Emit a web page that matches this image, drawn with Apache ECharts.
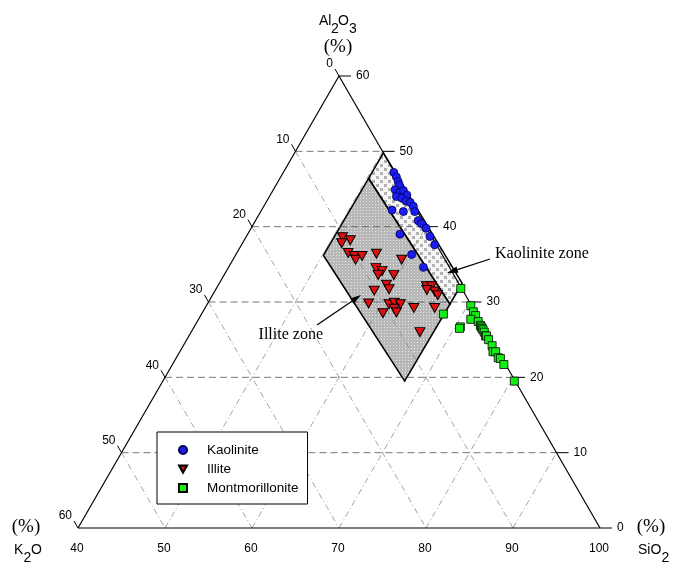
<!DOCTYPE html>
<html>
<head>
<meta charset="utf-8">
<script src="https://cdn.jsdelivr.net/npm/echarts@6/dist/echarts.min.js"></script>
<style>
  html, body { margin: 0; padding: 0; background: #fff; }
  #chart { width: 684px; height: 568px; }
</style>
</head>
<body>
<div id="chart"></div>
<script>
// every point is [SiO2, Al2O3, K2O] in %
const kaolinite = [
  [52.7, 47.2, 0.1], [53.3, 46.6, 0.1], [53.8, 46.0, 0.2], [54.2, 45.5, 0.3],
  [54.0, 44.9, 1.1], [54.7, 44.6, 0.7], [55.0, 44.8, 0.2], [55.7, 44.2, 0.1],
  [54.6, 44.0, 1.4], [55.3, 43.8, 0.9], [56.0, 43.4, 0.6], [56.6, 43.2, 0.2],
  [57.2, 42.7, 0.1], [55.0, 42.2, 2.8], [56.4, 42.0, 1.6], [57.7, 42.0, 0.3],
  [58.7, 40.8, 0.5], [59.3, 40.4, 0.3], [60.1, 39.8, 0.1], [61.1, 38.7, 0.2],
  [62.2, 37.6, 0.2], [57.5, 39.0, 3.5], [60.2, 36.3, 3.5], [62.4, 34.6, 3.0]
];
const illite = [
  [51.1, 38.6, 10.3], [52.2, 38.2, 9.6], [51.4, 37.8, 10.8], [52.8, 36.5, 10.7],
  [53.7, 36.1, 10.2], [54.1, 35.6, 10.3], [54.6, 36.1, 9.3], [56.1, 36.4, 7.5],
  [59.4, 35.6, 5.0], [57.0, 34.5, 8.5], [57.9, 34.1, 8.0], [57.7, 33.6, 8.7],
  [59.5, 33.6, 6.9], [59.3, 32.3, 8.4], [59.9, 31.7, 8.4], [58.3, 31.5, 10.2],
  [64.0, 32.1, 3.9], [64.6, 32.1, 3.3], [65.3, 31.4, 3.3], [65.9, 30.9, 3.2],
  [58.5, 29.8, 11.7], [60.9, 29.7, 9.4], [61.4, 29.9, 8.7], [62.2, 29.7, 8.1],
  [61.8, 29.1, 9.1], [62.3, 28.6, 9.1], [60.8, 28.5, 10.7], [64.0, 29.2, 6.8],
  [66.4, 29.2, 4.4], [66.3, 26.0, 7.7], [64.3, 31.6, 4.1]
];
const montmorillonite = [
  [68.1, 31.8, 0.1], [70.4, 29.5, 0.1], [71.1, 28.7, 0.2], [71.6, 28.2, 0.2],
  [71.3, 27.7, 1.0], [72.3, 27.4, 0.3], [72.8, 26.9, 0.3], [73.0, 26.7, 0.3],
  [73.2, 26.5, 0.3], [73.4, 26.3, 0.3], [73.7, 26.0, 0.3], [74.1, 25.5, 0.4],
  [74.2, 25.5, 0.3], [74.7, 25.0, 0.3], [75.5, 24.2, 0.3], [76.0, 23.4, 0.6],
  [76.3, 23.4, 0.3], [77.0, 22.6, 0.4], [77.3, 22.5, 0.2], [78.1, 21.7, 0.2],
  [80.4, 19.5, 0.1], [70.6, 26.7, 2.7], [70.6, 26.5, 2.9], [67.8, 28.4, 3.8]
];
// zone corners, same [SiO2, Al2O3, K2O]
const kaoliniteZone = [[50.2, 49.8, 0], [67.9, 32.5, -0.4], [67.9, 29.7, 2.4], [50.2, 46.4, 3.4]];
const illiteZone = [[50.2, 46.4, 3.4], [67.9, 29.7, 2.4], [67.8, 19.5, 12.7], [50.1, 36.2, 13.7]];

const sio2Ticks = [40, 50, 60, 70, 80, 90, 100];
const al2o3Ticks = [0, 10, 20, 30, 40, 50, 60];
const k2oTicks = [0, 10, 20, 30, 40, 50, 60];

// ternary -> plain x/y (x 0..1 along base, y 0..1 up to the Al2O3 apex)
function tern(p) {
  return [(p[0] - 40) / 60 + p[1] / 120, p[1] / 60];
}

const FONT = '"Liberation Sans", Arial, sans-serif';
const SERIF = '"Liberation Serif", "Times New Roman", serif';

function dotPattern(bg, dot, cell, size, stagger) {
  const c = document.createElement('canvas');
  c.width = cell; c.height = cell;
  const g = c.getContext('2d');
  g.fillStyle = bg; g.fillRect(0, 0, cell, cell);
  g.fillStyle = dot;
  g.fillRect(0, 0, size, size);
  if (stagger) g.fillRect(cell / 2, cell / 2, size, size);
  return c;
}
const zoneFills = [
  { image: dotPattern('#f6f6f6', '#b2b2b2', 8, 3, true), repeat: 'repeat' },
  { image: dotPattern('#b8b8b8', '#e6e6e6', 3, 1, false), repeat: 'repeat' }
];

// grid line segments
const hLines = al2o3Ticks.slice(1, -1).map(a => [[40, a, 60 - a], [100 - a, a, 0]]);
const siLines = sio2Ticks.slice(1, -1).map(s => [[s, 0, 100 - s], [s, 100 - s, 0]]);
const kLines = k2oTicks.slice(1, -1).map(k => [[40, 60 - k, k], [100 - k, 0, k]]);

function segSeries(segs, style, z) {
  return {
    type: 'custom', silent: true, z: z, clip: false,
    data: segs.map(s => tern(s[0]).concat(tern(s[1]))),
    renderItem: (params, api) => {
      const p1 = api.coord([api.value(0), api.value(1)]);
      const p2 = api.coord([api.value(2), api.value(3)]);
      return { type: 'line', shape: { x1: p1[0], y1: p1[1], x2: p2[0], y2: p2[1] },
               style: Object.assign({ fill: null }, style) };
    }
  };
}

// ticks + labels, one per axis; tick = tick end offset, lab = label offset
function tickSeries(points, labels, tick, lab) {
  return {
    type: 'custom', silent: true, z: 4, clip: false,
    data: points.map((p, i) => tern(p).concat([labels[i]])),
    renderItem: (params, api) => {
      const p = api.coord([api.value(0), api.value(1)]);
      const kids = [{
        type: 'text', x: p[0] + lab.x, y: p[1] + lab.y,
        style: { text: String(api.value(2)), font: '12px ' + FONT, fill: '#000',
                 align: lab.align, verticalAlign: 'middle' }
      }];
      if (tick) kids.push({ type: 'line', shape: { x1: p[0], y1: p[1], x2: p[0] + tick[0], y2: p[1] + tick[1] },
                            style: { stroke: '#000', lineWidth: 1 } });
      return { type: 'group', children: kids };
    }
  };
}

function arrow(x1, y1, x2, y2) {
  const ang = Math.atan2(y2 - y1, x2 - x1);
  const L = 11, W = 3.2;
  const bx = x2 - L * Math.cos(ang), by = y2 - L * Math.sin(ang);
  const px = -Math.sin(ang) * W, py = Math.cos(ang) * W;
  return [
    { type: 'line', z: 100, shape: { x1: x1, y1: y1, x2: bx, y2: by }, style: { stroke: '#000', lineWidth: 1.3 } },
    { type: 'polygon', z: 100, shape: { points: [[x2, y2], [bx + px, by + py], [bx - px, by - py]] }, style: { fill: '#000' } }
  ];
}
function txt(t, x, y, size, family, align) {
  return { type: 'text', z: 100, x: x, y: y,
           style: { text: t, font: size + 'px ' + family, fill: '#000', align: align || 'left', verticalAlign: 'middle' } };
}

const chart = echarts.init(document.getElementById('chart'));
chart.setOption({
  animation: false,
  backgroundColor: '#fff',
  grid: { left: 78, right: 84, top: 76, bottom: 40 },
  xAxis: { type: 'value', min: 0, max: 1, show: false },
  yAxis: { type: 'value', min: 0, max: 1, show: false },
  legend: {
    data: ['Kaolinite', 'Illite', 'Montmorillonite'],
    orient: 'vertical', left: 157, top: 432,
    itemWidth: 8, itemHeight: 8, itemGap: 5,
    padding: [11, 9, 9, 21],
    backgroundColor: '#fff', borderColor: '#000', borderWidth: 1, borderRadius: 0,
    textStyle: { fontFamily: FONT, fontSize: 13.5, color: '#000', padding: [0, 0, 0, 15] },
    selectedMode: false
  },
  graphic: [
    txt('Al', 319, 21, 14, FONT), txt('2', 331, 29, 14, FONT),
    txt('O', 338, 21, 14, FONT), txt('3', 349, 29, 14, FONT),
    txt('(%)', 338, 47, 19, SERIF, 'center'),
    txt('(%)', 26, 527, 19, SERIF, 'center'),
    txt('K', 14, 550, 14, FONT), txt('2', 23.5, 558, 14, FONT), txt('O', 31, 550, 14, FONT),
    txt('(%)', 651, 527, 19, SERIF, 'center'),
    txt('Si', 638, 550, 14, FONT), txt('O', 650.5, 550, 14, FONT), txt('2', 661.5, 558, 14, FONT),
    txt('Kaolinite zone', 495, 254, 16, SERIF),
    txt('Illite zone', 323, 335, 16, SERIF, 'right')
  ].concat(arrow(490, 259, 447, 273), arrow(317, 325, 361, 295)),
  series: [
    {
      type: 'custom', silent: true, z: 1, clip: false,
      data: [kaoliniteZone, illiteZone].map(z => [].concat(...z.map(tern))),
      renderItem: (params, api) => {
        const pts = [0, 1, 2, 3].map(i => api.coord([api.value(2 * i), api.value(2 * i + 1)]));
        return { type: 'polygon', shape: { points: pts },
                 style: { fill: zoneFills[params.dataIndex], stroke: '#000', lineWidth: 1.6 } };
      }
    },
    segSeries(hLines, { stroke: '#555', lineWidth: 0.8, lineDash: [7, 4] }, 2),
    segSeries(siLines.concat(kLines), { stroke: '#8a8a8a', lineWidth: 0.8, lineDash: [6, 3, 1, 3] }, 2),
    segSeries([[[40, 0, 60], [100, 0, 0]], [[100, 0, 0], [40, 60, 0]], [[40, 60, 0], [40, 0, 60]]],
              { stroke: '#000', lineWidth: 1.2 }, 3),
    tickSeries(al2o3Ticks.map(a => [100 - a, a, 0]), al2o3Ticks, [12, 0], { x: 17, y: 0, align: 'left' }),
    tickSeries(k2oTicks.map(k => [40, 60 - k, k]), k2oTicks, [-4, -7], { x: -6, y: -12, align: 'right' }),
    tickSeries(sio2Ticks.map(s => [s, 0, 100 - s]), sio2Ticks, null, { x: -1, y: 21, align: 'center' }),
    {
      name: 'Kaolinite', type: 'scatter', z: 6,
      data: kaolinite.map(tern), symbol: 'circle', symbolSize: 8,
      itemStyle: { color: '#1c1cf2', borderColor: '#000050', borderWidth: 0.8, opacity: 1 }
    },
    {
      name: 'Illite', type: 'scatter', z: 6,
      data: illite.map(tern), symbol: 'path://M0,0 L10,0 L5,9 Z', symbolSize: [10, 9],
      itemStyle: { color: '#e01010', borderColor: '#000', borderWidth: 1, opacity: 1 }
    },
    {
      name: 'Montmorillonite', type: 'scatter', z: 6,
      data: montmorillonite.map(tern), symbol: 'rect', symbolSize: 8,
      itemStyle: { color: '#14ee14', borderColor: '#000', borderWidth: 0.8, opacity: 1 }
    }
  ]
});
</script>
</body>
</html>
